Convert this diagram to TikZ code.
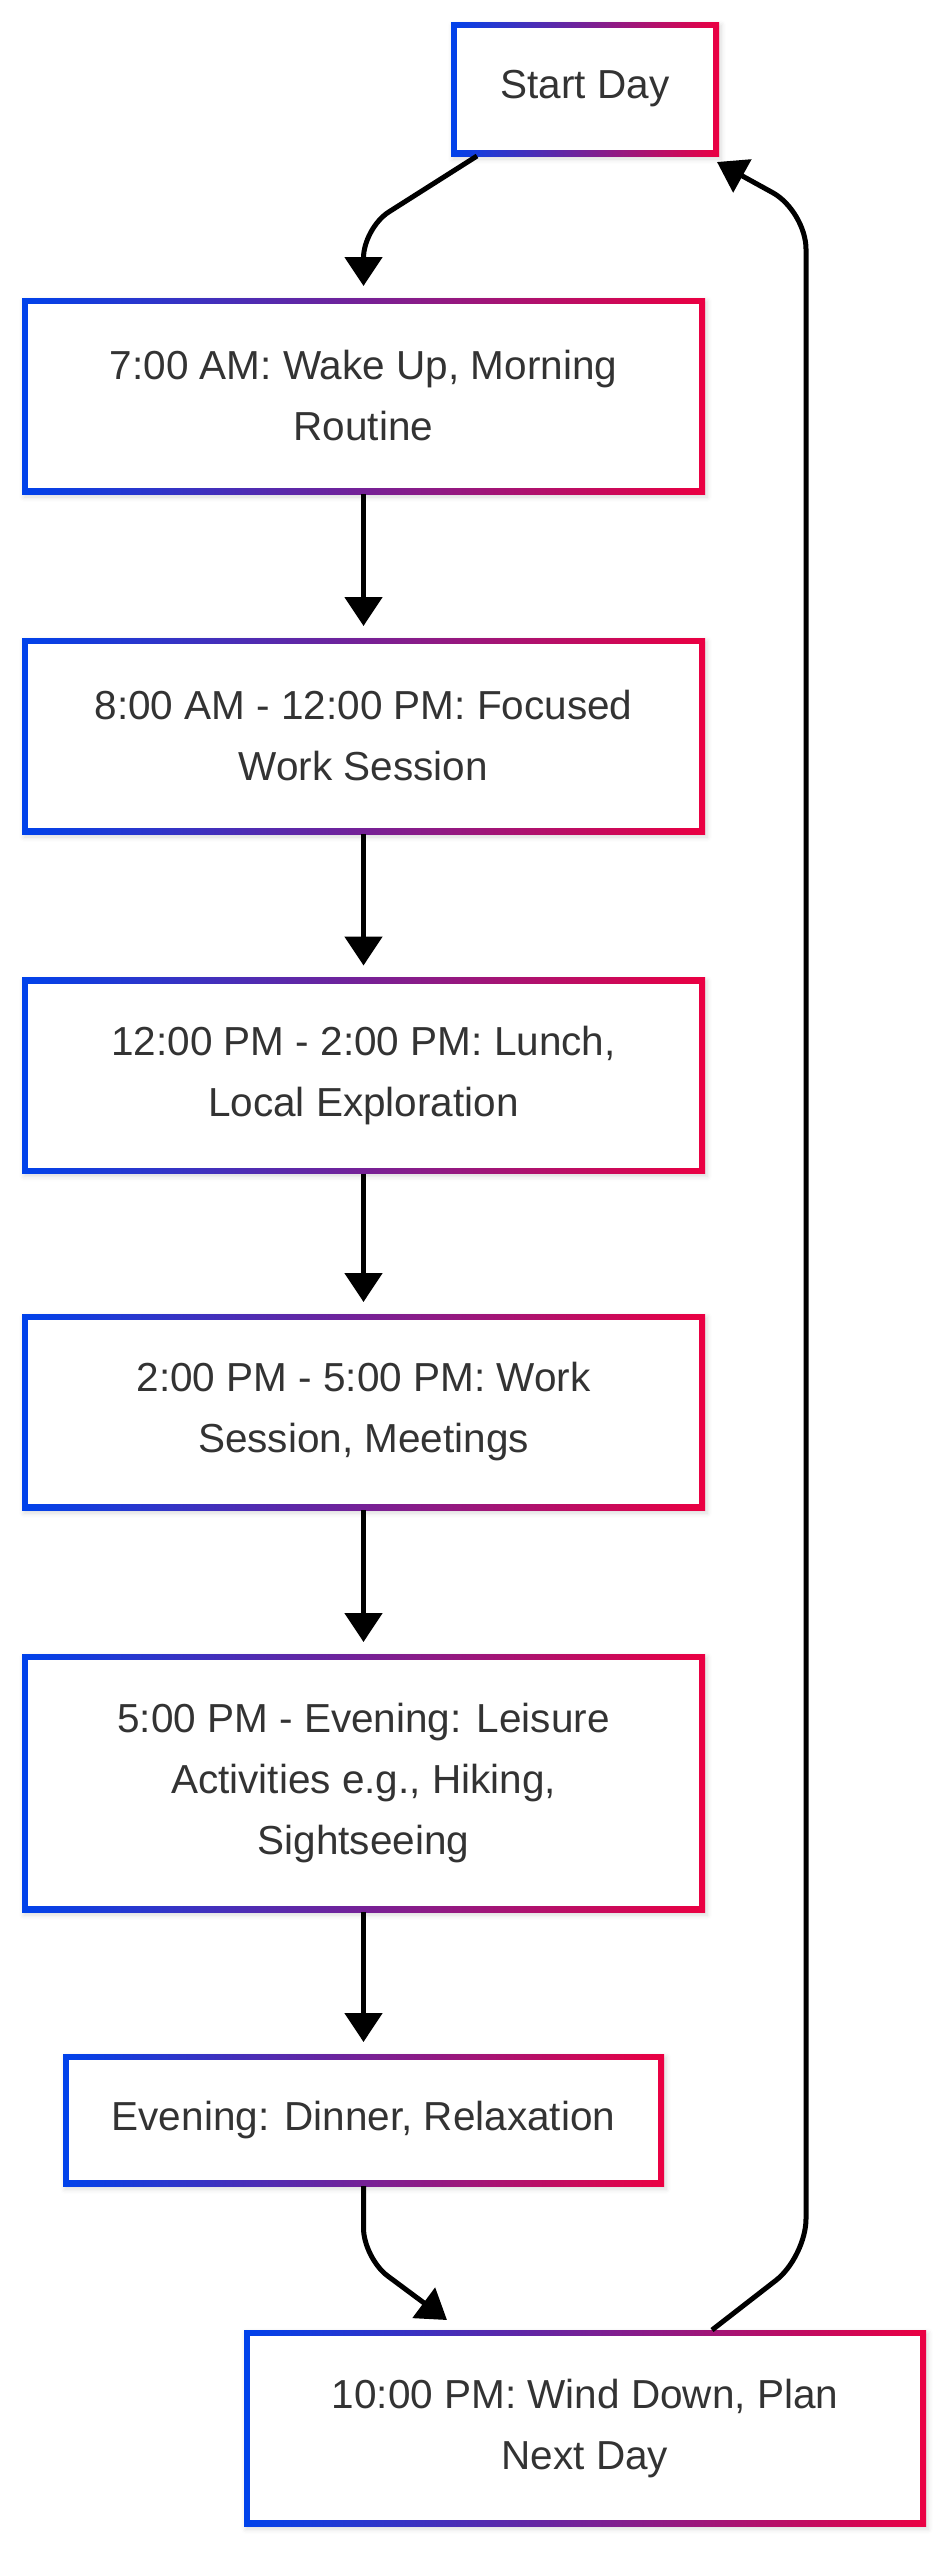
\documentclass[tikz,border=0pt]{standalone}
\usepackage{fontspec}
\setmainfont{Liberation Sans}
\usetikzlibrary{arrows.meta,calc,shadows.blur}
\definecolor{dayblue}{HTML}{0042EB}
\definecolor{dayred}{HTML}{EB0042}
\definecolor{daytext}{HTML}{333333}
\tikzset{
	daybox/.style={rectangle, inner sep=0pt, outer sep=0pt, fill=white, text=daytext, align=center,
		font=\fontsize{40.5}{61}\selectfont,
		blur shadow={shadow xshift=2pt, shadow yshift=-3pt, shadow blur radius=5pt, shadow opacity=15},
		path picture={
			\shade[left color=dayblue, right color=dayred] (path picture bounding box.south west) rectangle (path picture bounding box.north east);
			\fill[white] ([shift={(6pt,6pt)}]path picture bounding box.south west) rectangle ([shift={(-6pt,-6pt)}]path picture bounding box.north east);
		}},
	flow/.style={line width=5pt, -{Triangle[length=29pt,width=37pt]}},
}

\begin{document}
\begin{tikzpicture}[x=1pt,y=-1pt]
				\useasboundingbox (0,0) rectangle (949,2560);
				
				\node[daybox, minimum width=268pt, minimum height=134pt] (start) at (585,89) {Start Day};
				\node[daybox, minimum width=683pt, minimum height=196pt] (wake) at (363.5,396) {7:00 AM: Wake Up, Morning\\Routine};
				\node[daybox, minimum width=683pt, minimum height=196pt] (focus) at (363.5,736) {8:00 AM - 12:00 PM: Focused\\Work Session};
				\node[daybox, minimum width=683pt, minimum height=196pt] (lunch) at (363.5,1075.5) {12:00 PM - 2:00 PM: Lunch,\\Local Exploration};
				\node[daybox, minimum width=683pt, minimum height=196pt] (work) at (363.5,1412) {2:00 PM - 5:00 PM: Work\\Session, Meetings};
				\node[daybox, minimum width=683pt, minimum height=258pt] (leisure) at (363.5,1783) {5:00 PM - Evening: Leisure\\Activities e.g., Hiking,\\Sightseeing};
				\node[daybox, minimum width=601pt, minimum height=132pt] (dinner) at (363.5,2120) {Evening: Dinner, Relaxation};
				\node[daybox, minimum width=682pt, minimum height=196pt] (winddown) at (585,2428) {10:00 PM: Wind Down, Plan\\Next Day};
				
				% straight steps down the day
				\foreach \a/\b in {wake/focus, focus/lunch, lunch/work, work/leisure, leisure/dinner}
					\draw[flow, shorten >=12pt] (\a.south) -- (\b.north);
				
				\draw[flow, rounded corners=30pt] ([xshift=26pt]start.south west) -- ($(wake.north)+(0,-70)$) -- ([yshift=12pt]wake.north);
				\draw[flow, rounded corners=30pt] (dinner.south) -- ++(0,72) -- ([xshift=203pt,yshift=10pt]winddown.north west);
				
				% back to the start
				\coordinate (loopbot) at (806,2257);
				\coordinate (looptop) at (806,211);
				\draw[flow, rounded corners=38pt] ([xshift=468pt]winddown.north west) -- (loopbot) -- (looptop) -- ([xshift=-2pt,yshift=-6pt]start.south east);
\end{tikzpicture}
\end{document}
